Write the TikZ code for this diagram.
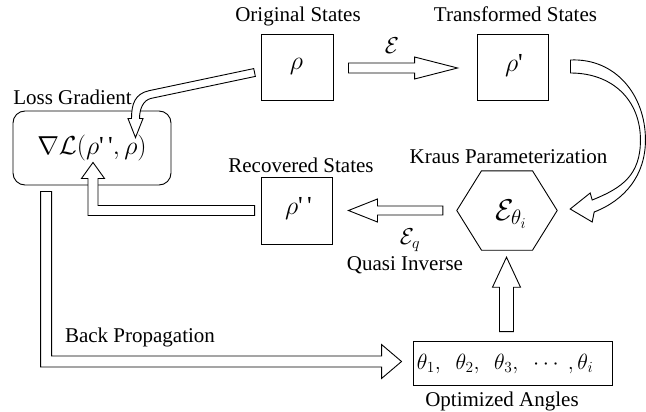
\RequirePackage{fix-cm}
\documentclass[tikz,border=0pt]{standalone}
\usepackage[no-math]{fontspec}
\setmainfont{Liberation Serif}
\usetikzlibrary{calc}
\begin{document}
\begin{tikzpicture}[x=1pt,y=-1pt,
  lw/.style={line width=0.9pt},
  box/.style={draw, line width=0.9pt, inner sep=0pt, font=\fontsize{26}{30}\selectfont},
  lbl/.style={font=\fontsize{21}{25}\selectfont, inner sep=0pt, anchor=base},
  harrow/.style={draw, fill=white, line width=0.9pt, line join=miter}]
\useasboundingbox (0,0) rectangle (646,412);

% boxes
\node[box, minimum width=72pt, minimum height=66pt] (rho) at (297,67) {};
\node[box, minimum width=71pt, minimum height=66pt] (rhop) at (512.5,67) {};
\node[box, minimum width=71pt, minimum height=67pt] (rhopp) at (296.5,210.5) {};
\node[box, rounded corners=12pt, minimum width=158pt, minimum height=74pt] (loss) at (92,148) {};
\node[inner sep=0pt, minimum width=100pt, minimum height=79pt] (hex) at (507,210.5) {};
\node[box, minimum width=199pt, minimum height=44pt] (theta) at (512.5,363) {};
\draw[lw] (hex.west) -- ($(hex.north)+(-25.5,0)$) -- ($(hex.north)+(25.5,0)$) -- (hex.east)
  -- ($(hex.south)+(25.5,0)$) -- ($(hex.south)+(-25.5,0)$) -- cycle;

% box contents
\node[font=\fontsize{26}{30}\selectfont, inner sep=0pt] (trho) at (296.5,66) {$\rho$};
\node[font=\fontsize{26}{30}\selectfont, inner sep=0pt] (trhop) at (514,66) {$\rho$\textquotesingle};
\node[font=\fontsize{26}{30}\selectfont, inner sep=0pt] (trhopp) at (298.5,209) {$\rho$\textquotesingle\,\textquotesingle};
\node[font=\fontsize{26}{30}\selectfont, inner sep=0pt] (tloss) at (92,148) {$\nabla\mathcal{L}(\rho\mbox{\textquotesingle\,\textquotesingle},\rho)$};
\node[font=\fontsize{30}{34}\selectfont, inner sep=0pt] (thex) at (511,214) {$\mathcal{E}_{\theta_i}$};
\node[font=\fontsize{22}{26}\selectfont, inner sep=0pt] (ttheta) at (505,364) {$\theta_1,\ \ \theta_2,\ \ \theta_3,\ \ \cdots\ ,\theta_i$};

% labels
\node[lbl] (lorig) at (298,21.5) {Original States};
\node[lbl] (ltrans) at (515.5,21.5) {Transformed States};
\node[lbl] (lloss) at (72.5,105) {Loss Gradient};
\node[lbl] (lrec) at (301,172) {Recovered States};
\node[lbl] (lkraus) at (508.5,163) {Kraus Parameterization};
\node[lbl] (lquasi) at (405,270) {Quasi Inverse};
\node[lbl] (lback) at (140,342) {Back Propagation};
\node[lbl] (lopt) at (502,406) {Optimized Angles};
\node[font=\fontsize{23}{26}\selectfont, inner sep=0pt] (leps) at (392,46) {$\mathcal{E}$};
\node[font=\fontsize{23}{26}\selectfont, inner sep=0pt] (lepsq) at (410,240) {$\mathcal{E}_q$};

% arrow 1: rho -> rho'
\coordinate (a1s) at ($(rho.east)+(15,1)$);
\coordinate (a1t) at ($(rhop.west)+(-19,1)$);
\coordinate (a1b) at ($(a1t)+(-43,0)$);
\draw[harrow] ($(a1s)+(0,-5)$) -- ($(a1b)+(0,-5)$) -- ($(a1b)+(0,-11)$) -- (a1t)
  -- ($(a1b)+(0,11)$) -- ($(a1b)+(0,5)$) -- ($(a1s)+(0,5)$) -- cycle;

% arrow 2: hex -> rho''
\coordinate (a2s) at ($(hex.west)+(-14,0)$);
\coordinate (a2t) at ($(rhopp.east)+(16,0)$);
\coordinate (a2b) at ($(a2t)+(29,0)$);
\draw[harrow] ($(a2s)+(0,-4.5)$) -- ($(a2b)+(0,-4.5)$) -- ($(a2b)+(0,-11.5)$) -- (a2t)
  -- ($(a2b)+(0,11.5)$) -- ($(a2b)+(0,4.5)$) -- ($(a2s)+(0,4.5)$) -- cycle;

% arrow 3: rho'' -> loss
\coordinate (a3s) at ($(rhopp.west)+(-6,0)$);
\coordinate (a3t) at ($(loss.south)+(1,-23)$);
\coordinate (a3b) at ($(a3t)+(0,16)$);
\coordinate (a3c) at (a3b |- a3s);
\draw[harrow] ($(a3s)+(0,-5)$) -- ($(a3c)+(5,-5)$) -- ($(a3b)+(5,0)$) -- ($(a3b)+(11.5,0)$)
  -- (a3t) -- ($(a3b)+(-11.5,0)$) -- ($(a3b)+(-5,0)$) -- ($(a3c)+(-5,5)$)
  -- ($(a3s)+(0,5)$) -- cycle;

% arrow 4: loss -> theta (back propagation)
\coordinate (a4s) at ($(loss.south west)+(33.5,6)$);
\coordinate (a4t) at ($(theta.west)+(-11,-1.5)$);
\coordinate (a4b) at ($(a4t)+(-20,0)$);
\coordinate (a4c) at (a4s |- a4b);
\draw[harrow] ($(a4s)+(-5.5,0)$) -- ($(a4c)+(-5.5,5.5)$) -- ($(a4b)+(0,5.5)$) -- ($(a4b)+(0,17)$)
  -- (a4t) -- ($(a4b)+(0,-17)$) -- ($(a4b)+(0,-5.5)$) -- ($(a4c)+(5.5,-5.5)$)
  -- ($(a4s)+(5.5,0)$) -- cycle;

% arrow 5: theta -> hex
\coordinate (a5s) at ($(theta.north)+(-6,-9)$);
\coordinate (a5t) at ($(hex.south)+(-0.5,7)$);
\coordinate (a5b) at ($(a5t)+(0,30)$);
\draw[harrow] ($(a5s)+(-7,0)$) -- ($(a5b)+(-7,0)$) -- ($(a5b)+(-14,0)$) -- (a5t)
  -- ($(a5b)+(14,0)$) -- ($(a5b)+(7,0)$) -- ($(a5s)+(7,0)$) -- cycle;

% arrow 6: rho -> loss (bent)
\coordinate (a6s) at ($(rho.west)+(-6,5.5)$);
\coordinate (a6t) at ($(loss.north)+(43.5,27)$);
\coordinate (a6b) at ($(a6t)+(0,-19)$);
\coordinate (a6k) at ($(a6b)+(14.5,-24)$);
\draw[harrow] ($(a6s)+(-0.8,-3.9)$) -- ($(a6k)+(-0.8,-3.9)$)
  .. controls +(-14,3) and +(0,-15) .. ($(a6b)+(-4,0)$) -- ($(a6b)+(-7.5,0)$) -- (a6t)
  -- ($(a6b)+(7.5,0)$) -- ($(a6b)+(4,0)$)
  .. controls +(0,-9) and +(-8,2) .. ($(a6k)+(0.8,3.9)$) -- ($(a6s)+(0.8,3.9)$) -- cycle;

% arrow 7: rho' -> hex (curved)
\coordinate (c0) at ($(rhop.east)+(22,-7)$);
\coordinate (c1) at ($(rhop.east)+(22,6)$);
\coordinate (a7t) at ($(hex.east)+(13,-1.5)$);
\coordinate (o1) at ($(c0)+(75,80)$);
\coordinate (i1) at ($(c0)+(70,80)$);
\coordinate (ob) at ($(a7t)+(24,3)$);
\coordinate (lc) at ($(a7t)+(22,13)$);
\coordinate (uc) at ($(a7t)+(20,-16)$);
\coordinate (ib) at ($(a7t)+(22,-9)$);
\draw[harrow] (c0) .. controls +(45,-2) and +(0,-45) .. (o1)
  .. controls +(0,35) and +(31,-12) .. (ob) -- (lc) -- (a7t) -- (uc) -- (ib)
  .. controls +(30,-12) and +(0,35) .. (i1)
  .. controls +(0,-40) and +(42,0) .. (c1) -- cycle;
\end{tikzpicture}
\end{document}
